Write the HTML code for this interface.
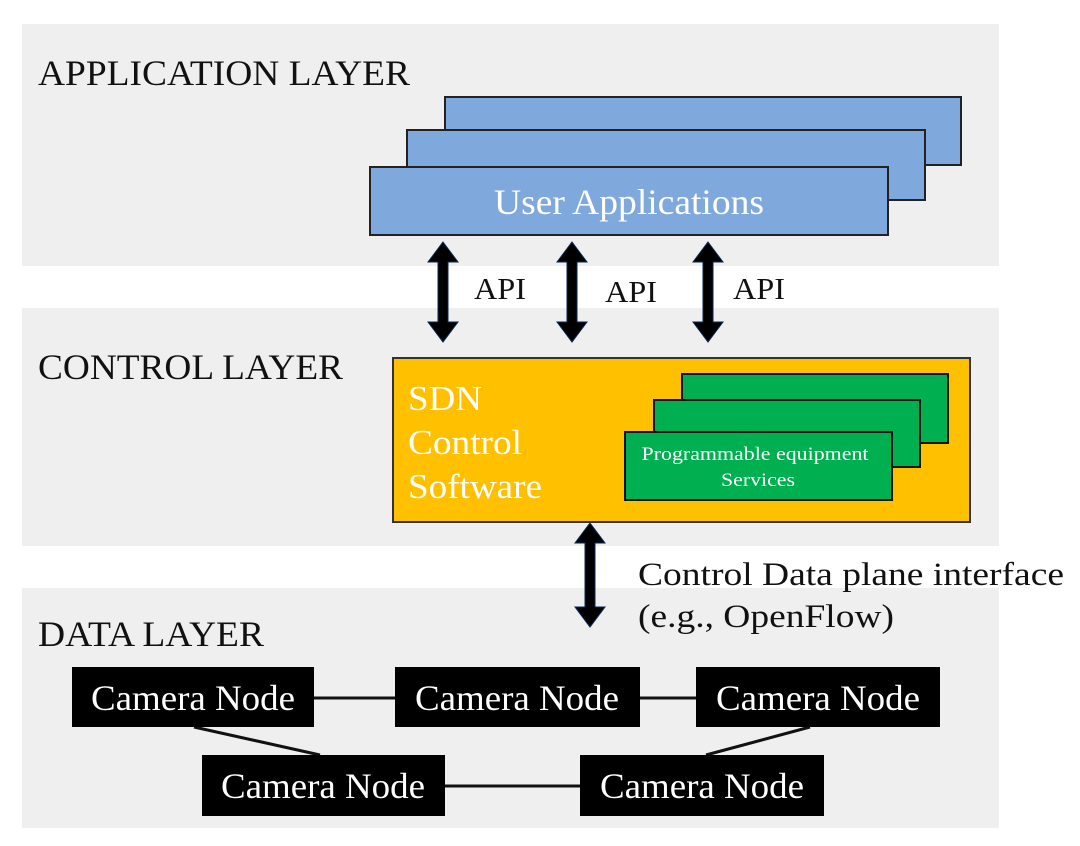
<!DOCTYPE html>
<html><head><meta charset="utf-8"><style>
html,body{margin:0;padding:0;background:#fff;}
svg{display:block}
text{font-family:"Liberation Serif",serif;}
</style></head><body>
<svg width="1080" height="846" viewBox="0 0 1080 846" xmlns="http://www.w3.org/2000/svg">
<rect x="22" y="24" width="977" height="242" fill="#efefef"/>
<rect x="22" y="308" width="977" height="238" fill="#efefef"/>
<rect x="22" y="588" width="977" height="240" fill="#efefef"/>

<text x="38" y="85" font-size="36" fill="#111" textLength="372" lengthAdjust="spacingAndGlyphs">APPLICATION LAYER</text>
<text x="38" y="379" font-size="36" fill="#111" textLength="305" lengthAdjust="spacingAndGlyphs">CONTROL LAYER</text>
<text x="38" y="646" font-size="36" fill="#111" textLength="226" lengthAdjust="spacingAndGlyphs">DATA LAYER</text>

<g stroke="#222" stroke-width="2" fill="#7fa9dd">
<rect x="445" y="97" width="516" height="68"/>
<rect x="407" y="130" width="518" height="70"/>
<rect x="370" y="167" width="518" height="68"/>
</g>
<text x="629" y="214" font-size="36" fill="#fff" text-anchor="middle" textLength="270" lengthAdjust="spacingAndGlyphs">User Applications</text>

<g fill="#000" stroke="#0a2a55" stroke-width="1">
<polygon points="443,242 458,262 448,262 448,322 458,322 443,342 428,322 438,322 438,262 428,262"/>
<polygon points="572,242 587,262 577,262 577,322 587,322 572,342 557,322 567,322 567,262 557,262"/>
<polygon points="708,242 723,262 713,262 713,322 723,322 708,342 693,322 703,322 703,262 693,262"/>
<polygon points="590,523 605,543 595,543 595,607 605,607 590,627 575,607 585,607 585,543 575,543"/>
</g>
<text x="474" y="299" font-size="31" fill="#111" textLength="52" lengthAdjust="spacingAndGlyphs">API</text>
<text x="605" y="302" font-size="31" fill="#111" textLength="52" lengthAdjust="spacingAndGlyphs">API</text>
<text x="733" y="299" font-size="31" fill="#111" textLength="52" lengthAdjust="spacingAndGlyphs">API</text>

<rect x="393" y="358" width="577" height="164" fill="#ffc000" stroke="#333" stroke-width="2"/>
<text x="408" y="410" font-size="35" fill="#fff" textLength="74" lengthAdjust="spacingAndGlyphs">SDN</text>
<text x="408" y="454" font-size="35" fill="#fff" textLength="114" lengthAdjust="spacingAndGlyphs">Control</text>
<text x="408" y="498" font-size="35" fill="#fff" textLength="134" lengthAdjust="spacingAndGlyphs">Software</text>
<g fill="#00b050" stroke="#111" stroke-width="2">
<rect x="682" y="374" width="266" height="69"/>
<rect x="654" y="400" width="266" height="67"/>
<rect x="625" y="432" width="267" height="68"/>
</g>
<text x="755" y="460" font-size="19" fill="#fff" text-anchor="middle" textLength="227" lengthAdjust="spacingAndGlyphs">Programmable equipment</text>
<text x="758" y="486" font-size="19" fill="#fff" text-anchor="middle" textLength="74" lengthAdjust="spacingAndGlyphs">Services</text>

<text x="638" y="585" font-size="33" fill="#111" textLength="426" lengthAdjust="spacingAndGlyphs">Control Data plane interface</text>
<text x="638" y="627" font-size="33" fill="#111" textLength="256" lengthAdjust="spacingAndGlyphs">(e.g., OpenFlow)</text>

<g stroke="#111" stroke-width="3">
<line x1="314" y1="698" x2="395" y2="698"/>
<line x1="640" y1="698" x2="696" y2="698"/>
<line x1="445" y1="786" x2="580" y2="786"/>
<line x1="194" y1="727" x2="320" y2="755"/>
<line x1="810" y1="727" x2="706" y2="755"/>
</g>
<g fill="#000">
<rect x="72" y="667" width="242" height="60"/>
<rect x="395" y="667" width="245" height="60"/>
<rect x="696" y="667" width="244" height="60"/>
<rect x="202" y="755" width="243" height="61"/>
<rect x="580" y="755" width="244" height="61"/>
</g>
<g font-size="36" fill="#fff" text-anchor="middle">
<text x="193" y="710" textLength="204" lengthAdjust="spacingAndGlyphs">Camera Node</text>
<text x="517" y="710" textLength="204" lengthAdjust="spacingAndGlyphs">Camera Node</text>
<text x="818" y="710" textLength="204" lengthAdjust="spacingAndGlyphs">Camera Node</text>
<text x="323" y="798" textLength="204" lengthAdjust="spacingAndGlyphs">Camera Node</text>
<text x="702" y="798" textLength="204" lengthAdjust="spacingAndGlyphs">Camera Node</text>
</g>
</svg>
</body></html>
